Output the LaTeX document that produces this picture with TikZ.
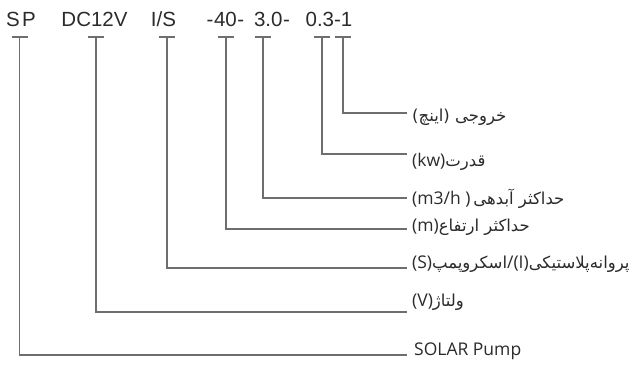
\documentclass[tikz,border=0pt]{standalone}
\usepackage{fontspec}
\setmainfont{Liberation Sans}
\newfontfamily\latf{Open Sans}
\newfontfamily\arabicfont[Script=Arabic]{DejaVu Sans}
\TeXXeTstate=1
\definecolor{ln}{HTML}{6E6E6E}
\definecolor{tx}{HTML}{2B2B2B}
\newcommand{\fa}[1]{{\arabicfont\fontsize{16.5}{16.5}\selectfont\beginR #1\endR}}
\begin{document}
\begin{tikzpicture}[x=1pt,y=-1pt,
  conn/.style={draw=ln,line width=1.4pt},
  tok/.style={text=tx,font=\fontsize{20.5}{20.5}\selectfont,inner sep=0pt,anchor=base},
  lab/.style={text=tx,inner sep=0pt,anchor=west,font=\latf\fontsize{17.5}{17.5}\selectfont}]
\useasboundingbox[fill=white] (0,0) rectangle (643,365);
% top tokens
\node[tok] (sp)  at (21,26)    {S\hspace{2.5pt}P};
\node[tok] (dc)  at (94.5,26)  {DC12V};
\node[tok] (is)  at (163.5,26) {I/S};
\node[tok] (h40) at (225.5,26) {-\hspace{0.6pt}40\hspace{0.6pt}-};
\node[tok] (q30) at (272,26)   {3.0\hspace{0.6pt}-};
\node[tok] (p03) at (329,26)   {0.3-1};
% tick tops
\coordinate (tsp) at (19.5,37);
\coordinate (tdc) at (96,37);
\coordinate (tis) at (167,37);
\coordinate (th)  at (226,37);
\coordinate (tq)  at (263,37);
\coordinate (tp)  at (322,37);
\coordinate (ti)  at (343,37);
% line ends
\coordinate (ei)  at (407,113);
\coordinate (ep)  at (407,154);
\coordinate (eq)  at (407,198);
\coordinate (eh)  at (407,229);
\coordinate (eis) at (407,268);
\coordinate (edc) at (407,312);
\coordinate (esp) at (407,355);
% T bars
\foreach \t in {tsp,tdc,tis,th,tq,tp,ti}
  \draw[conn] ([xshift=-8pt]\t) -- ([xshift=8pt]\t);
% connectors
\draw[conn] (ti)  |- (ei);
\draw[conn] (tp)  |- (ep);
\draw[conn] (tq)  |- (eq);
\draw[conn] (th)  |- (eh);
\draw[conn] (tis) |- (eis);
\draw[conn] (tdc) |- (edc);
\draw[conn] (tsp) |- (esp);
% labels
\node[lab] (li)  at (412,117) {\fa{خروجی (اینچ)}};
\node[lab] (lp)  at (412,162) {(kw)\fa{قدرت}};
\node[lab] (lq)  at (412,199) {(m3/h )\,\fa{حداکثر آبدهی}};
\node[lab] (lh)  at (412,227) {(m)\fa{حداکثر ارتفاع}};
\node[lab] (lis) at (412,264) {(S)\fa{اسکروپمپ}/(I)\fa{پروانه‌پلاستیکی}};
\node[lab] (ldc) at (412,302) {(V)\fa{ولتاژ}};
\node[lab] (lsp) at (414,351) {SOLAR Pump};
\end{tikzpicture}
\end{document}
